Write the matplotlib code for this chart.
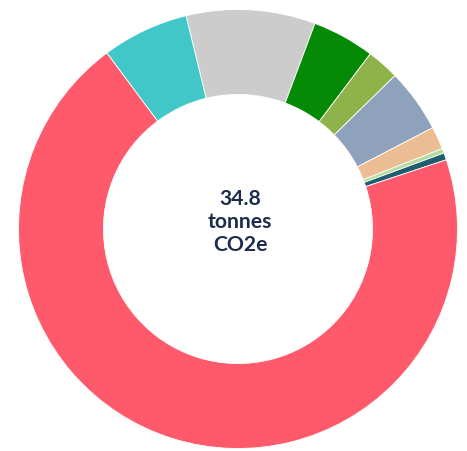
import matplotlib.pyplot as plt

# emissions breakdown, tonnes CO2e (clockwise from the grey slice)
categories = ["Grey", "Green", "Olive", "Blue grey", "Peach", "Light green",
              "Dark teal", "Red", "Teal"]
values = [3.31, 1.60, 0.83, 1.63, 0.58, 0.12, 0.18, 24.34, 2.22]
colors = ["#cccccc", "#058a05", "#8fb34b", "#8fa2bb", "#ecbd93", "#b3dc9e",
          "#1f5e6e", "#ff5a6b", "#41c7c7"]
total_label = "34.8\ntonnes\nCO2e"


def main():
    fig = plt.figure(figsize=(4.67, 4.51), dpi=100)
    # donut center at (238, 229) px, outer radius ~219.5 px
    ax = fig.add_axes([(238 - 219.5) / 467, (451 - 229 - 219.5) / 451,
                       439 / 467, 439 / 451])
    ax.pie(values, colors=colors, startangle=103.7, counterclock=False,
           radius=1.0, wedgeprops=dict(width=0.387, edgecolor="white", linewidth=0.6))
    ax.set_xlim(-1, 1)
    ax.set_ylim(-1, 1)
    ax.set_aspect("equal")
    ax.axis("off")

    ax.text(0.01, 0.03, total_label, ha="center", va="center", fontsize=15.2,
            fontweight="bold", color="#1b2d4b", family="Lato", linespacing=1.19)

    fig.savefig("out.png", dpi=100)


if __name__ == "__main__":
    main()
